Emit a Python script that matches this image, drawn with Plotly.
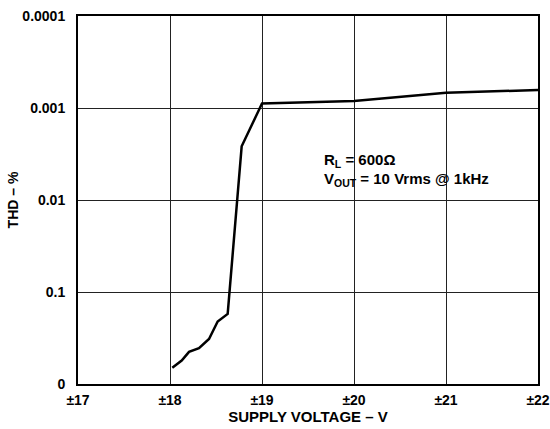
import plotly.graph_objects as go

# Data
supply_v = [18.025, 18.127, 18.207, 18.315, 18.424, 18.518, 18.627, 18.779, 19.0, 20.0, 21.0, 22.0]
thd_pct = [0.664, 0.557, 0.448, 0.408, 0.324, 0.209, 0.173, 0.00261, 0.000893, 0.000838, 0.000682, 0.000638]

x_tickvals = [17, 18, 19, 20, 21, 22]
x_ticktext = ["±17", "±18", "±19", "±20", "±21", "±22"]
y_tickvals = [0.0001, 0.001, 0.01, 0.1, 1]
y_ticktext = ["0.0001", "0.001", "0.01", "0.1", "0"]

FONT = "Arial, Liberation Sans, Helvetica, sans-serif"
TF = dict(family=FONT, size=14, color="black", weight="bold")

fig = go.Figure()
fig.add_trace(go.Scatter(
    x=supply_v, y=thd_pct, mode="lines",
    line=dict(color="black", width=2.5),
    showlegend=False, hoverinfo="skip",
))

fig.update_layout(
    width=550, height=429,
    margin=dict(l=78, r=12, t=16, b=45),
    paper_bgcolor="white", plot_bgcolor="white",
    font=TF,
    xaxis=dict(
        range=[17, 22], tickvals=x_tickvals, ticktext=x_ticktext,
        showgrid=True, gridcolor="#222222", gridwidth=1,
        showline=True, linecolor="black", linewidth=2, mirror=True,
        zeroline=False, ticks="", ticklabelstandoff=2, automargin=False,
        tickfont=TF,
        title=dict(text="SUPPLY VOLTAGE – V", standoff=3,
                   font=dict(family=FONT, size=15, color="black", weight="bold")),
    ),
    yaxis=dict(
        type="log", range=[0, -4], tickvals=y_tickvals, ticktext=y_ticktext,
        showgrid=True, gridcolor="#222222", gridwidth=1,
        showline=True, linecolor="black", linewidth=2, mirror=True,
        zeroline=False, ticks="", ticklabelstandoff=8, automargin=False,
        tickfont=TF,
        title=dict(text="THD – %", standoff=0,
                   font=dict(family=FONT, size=14, color="black", weight="bold")),
    ),
)

AF = dict(family=FONT, size=15, color="black", weight="bold")
fig.add_annotation(
    x=0.530, y=0.607, xref="paper", yref="paper",
    xanchor="left", yanchor="middle", align="left", showarrow=False,
    text="R<sub>L</sub> = 600Ω", font=AF,
)
fig.add_annotation(
    x=0.530, y=0.557, xref="paper", yref="paper",
    xanchor="left", yanchor="middle", align="left", showarrow=False,
    text="V<sub>OUT</sub> = 10 Vrms @ 1kHz", font=AF,
)

fig.write_html("out.html", config={"displayModeBar": False},
               post_script="document.body.style.margin='0';")
